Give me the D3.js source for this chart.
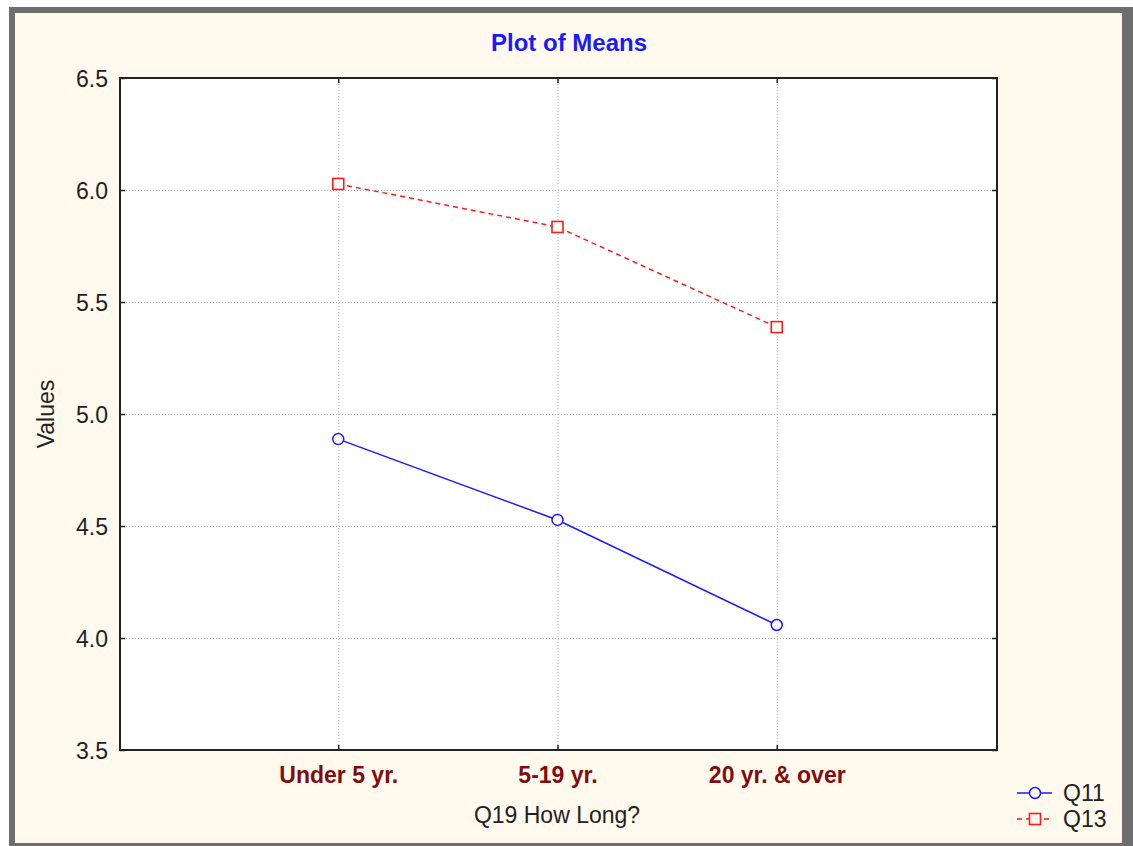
<!DOCTYPE html>
<html><head><meta charset="utf-8">
<script src="https://cdn.jsdelivr.net/npm/d3@7"></script>
<style>body{margin:0;background:#fff;}svg{display:block;}</style>
</head><body>
<script>
const categories = ["Under 5 yr.", "5-19 yr.", "20 yr. & over"];
const q11 = [4.888, 4.527, 4.058];
const q13 = [6.027, 5.835, 5.388];
const yTicks = [3.5, 4.0, 4.5, 5.0, 5.5, 6.0, 6.5];
const seriesNames = ["Q11", "Q13"];

const W = 1133, H = 846;
const svg = d3.select("body").append("svg").attr("width", W).attr("height", H);
const font = "Arial, 'Liberation Sans', sans-serif";

// outer frame
svg.append("rect").attr("x",0).attr("y",0).attr("width",W).attr("height",H).attr("fill","#ffffff");
svg.append("rect").attr("x",9).attr("y",7).attr("width",1124).attr("height",839).attr("fill","#6e6e6e");
svg.append("rect").attr("x",15).attr("y",13).attr("width",1107).attr("height",830).attr("fill","#fff9ee");

const L = 120, T = 78, R = 997, B = 750;
const x = d3.scalePoint().domain(categories).range([L-1, R-1]).padding(1);
const y = d3.scaleLinear().domain([3.5, 6.5]).range([B, T]);

svg.append("rect").attr("x",L).attr("y",T).attr("width",R-L).attr("height",B-T).attr("fill","#fff");

// grid
const g = svg.append("g");
g.selectAll(".hg").data(yTicks.slice(1,-1)).enter().append("line")
  .attr("x1",L).attr("x2",R).attr("y1",d=>y(d)+0.5).attr("y2",d=>y(d)+0.5)
  .attr("stroke","#b4b4b4").attr("stroke-dasharray","1,2");
g.selectAll(".vg").data(categories).enter().append("line")
  .attr("y1",T).attr("y2",B).attr("x1",d=>x(d)+0.5).attr("x2",d=>x(d)+0.5)
  .attr("stroke","#b4b4b4").attr("stroke-dasharray","1,2");

// axes (inward ticks)
const ax = svg.append("g");
ax.append("g").attr("transform",`translate(${L},0)`)
  .call(d3.axisLeft(y).tickValues(yTicks).tickSize(-5).tickFormat(d3.format(".1f")))
  .call(s=>{s.select(".domain").remove(); s.selectAll("text").attr("x",-12).attr("dy","0.36em").attr("font-size",23).attr("font-family",font).attr("fill","#222");});
ax.append("g").attr("transform",`translate(${R},0)`)
  .call(d3.axisRight(y).tickValues(yTicks).tickSize(-5).tickFormat(""))
  .call(s=>s.select(".domain").remove());
ax.append("g").attr("transform",`translate(0,${B})`)
  .call(d3.axisBottom(x).tickSize(-5))
  .call(s=>{s.select(".domain").remove(); s.selectAll("text").attr("y",33).attr("dy",0).attr("font-size",23).attr("font-weight","bold").attr("font-family",font).attr("fill","#7f0d0d");});
ax.append("g").attr("transform",`translate(0,${T})`)
  .call(d3.axisTop(x).tickSize(-5).tickFormat(""))
  .call(s=>s.select(".domain").remove());
ax.selectAll(".tick line").attr("stroke","#222").attr("stroke-width",1.5);
svg.append("rect").attr("x",L).attr("y",T).attr("width",R-L).attr("height",B-T)
  .attr("fill","none").attr("stroke","#222").attr("stroke-width",2);

// lines
const line = d3.line().x((d,i)=>x(categories[i])).y(d=>y(d));
svg.append("path").datum(q11).attr("d",line).attr("fill","none").attr("stroke","#1a1aff").attr("stroke-width",1.5);
svg.append("path").datum(q13).attr("d",line).attr("fill","none").attr("stroke","#ff1a1a").attr("stroke-width",1.5).attr("stroke-dasharray","5,4");
svg.selectAll(".c").data(q11).enter().append("circle")
  .attr("cx",(d,i)=>x(categories[i])).attr("cy",d=>y(d)).attr("r",5.5)
  .attr("fill","#fff").attr("stroke","#1a1aff").attr("stroke-width",1.5);
svg.selectAll(".s").data(q13).enter().append("rect")
  .attr("x",(d,i)=>x(categories[i])-5.5).attr("y",d=>y(d)-5.5).attr("width",11).attr("height",11)
  .attr("fill","#fff").attr("stroke","#ff1a1a").attr("stroke-width",1.6);

// text
svg.append("text").attr("x",569).attr("y",51).attr("text-anchor","middle").attr("font-family",font)
  .attr("font-weight","bold").attr("font-size",24).attr("fill","#1a1aff").text("Plot of Means");
svg.append("text").attr("x",557).attr("y",823).attr("text-anchor","middle").attr("font-family",font)
  .attr("font-size",23).attr("fill","#222").text("Q19 How Long?");
svg.append("text").attr("transform","translate(54,414) rotate(-90)").attr("text-anchor","middle").attr("font-family",font)
  .attr("font-size",23).attr("fill","#222").text("Values");

// legend
const lg = svg.append("g");
const colors = ["#1a1aff","#ff1a1a"];
seriesNames.forEach((n,i)=>{
  const yy = 793 + i*26;
  lg.append("line").attr("x1",1017).attr("x2",1052).attr("y1",yy).attr("y2",yy)
    .attr("stroke",colors[i]).attr("stroke-width",1.5).attr("stroke-dasharray", i? "5,4":null);
  if(i===0) lg.append("circle").attr("cx",1035).attr("cy",yy).attr("r",5.5).attr("fill","#fff9ee").attr("stroke",colors[i]).attr("stroke-width",1.5);
  else lg.append("rect").attr("x",1029.5).attr("y",yy-5.5).attr("width",11).attr("height",11).attr("fill","#fff9ee").attr("stroke",colors[i]).attr("stroke-width",1.6);
  lg.append("text").attr("x",1063).attr("y",yy+8).attr("font-family",font).attr("font-size",23).attr("fill","#222").text(n);
});
</script>
</body></html>
